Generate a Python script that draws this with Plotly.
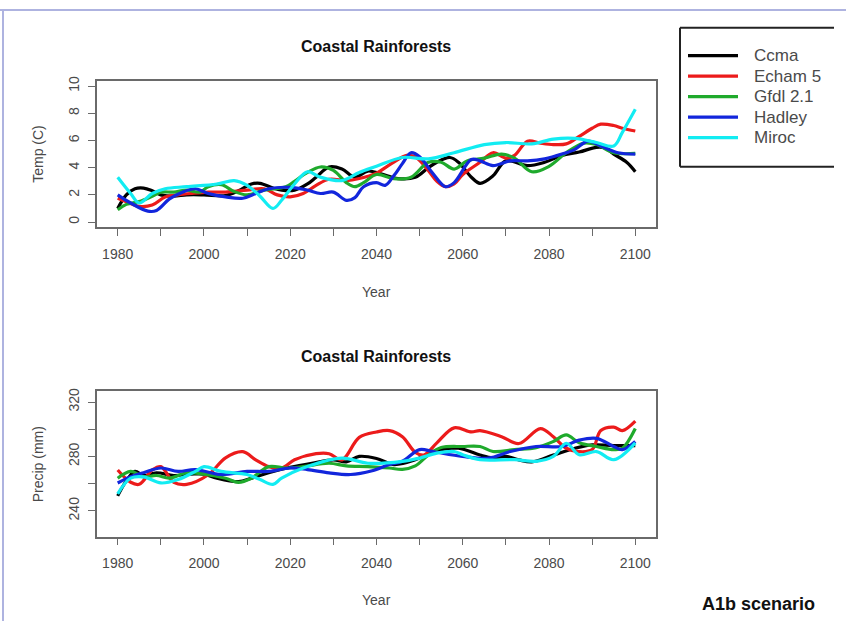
import plotly.graph_objects as go

# ---- Temperature (C), Coastal Rainforests ----
ccma_t_years = [1980, 1982, 1984, 1986, 1988, 1990, 1993, 1996, 2000, 2005, 2008, 2011, 2013, 2016,
                2018, 2021, 2024, 2026, 2029, 2032, 2035, 2038, 2041, 2045, 2049, 2052, 2054, 2057,
                2059, 2062, 2064, 2067, 2070, 2075, 2079, 2083, 2087, 2091, 2093, 2095, 2098, 2100]
ccma_t = [1.0, 2.0, 2.45, 2.5, 2.3, 2.0, 1.9, 2.0, 2.0, 1.95, 2.3, 2.8, 2.85, 2.5,
          2.35, 2.35, 2.8, 3.3, 4.05, 3.9, 3.3, 3.75, 3.55, 3.2, 3.3, 4.0, 4.4, 4.75,
          4.4, 3.3, 2.85, 3.4, 4.5, 4.15, 4.4, 4.9, 5.15, 5.5, 5.45, 5.0, 4.4, 3.7]

echam_t_years = [1980, 1982, 1985, 1988, 1991, 1994, 1997, 2001, 2005, 2010, 2014, 2017, 2020, 2023,
                 2026, 2029, 2033, 2036, 2040, 2043, 2047, 2049, 2052, 2054, 2056, 2058, 2060, 2064,
                 2067, 2070, 2072, 2075, 2078, 2081, 2084, 2087, 2090, 2092, 2095, 2097, 2100]
echam_t = [1.75, 1.5, 1.15, 1.25, 1.85, 2.0, 2.1, 2.2, 2.2, 2.35, 2.45, 2.0, 1.85, 2.1,
           2.7, 3.15, 3.05, 3.2, 3.6, 4.2, 4.9, 4.8, 3.8, 3.0, 2.6, 2.8, 3.5, 4.4,
           5.1, 4.7, 4.9, 5.95, 5.8, 5.7, 5.75, 6.3, 6.9, 7.2, 7.1, 6.9, 6.7]

gfdl_t_years = [1980, 1982, 1985, 1988, 1990, 1993, 1996, 1999, 2001, 2004, 2007, 2010, 2014, 2019,
                2021, 2024, 2027, 2030, 2033, 2035, 2037, 2040, 2044, 2048, 2052, 2055, 2058, 2061,
                2065, 2069, 2072, 2076, 2080, 2084, 2088, 2091, 2095, 2100]
gfdl_t = [0.9, 1.3, 1.5, 1.9, 2.2, 2.2, 2.35, 2.2, 2.6, 2.75, 2.25, 2.0, 2.35, 2.6,
          3.0, 3.65, 4.05, 3.8, 2.9, 2.6, 2.9, 3.5, 3.2, 3.3, 4.4, 4.4, 3.9, 4.5,
          4.7, 5.0, 4.7, 3.7, 4.1, 5.1, 5.8, 5.7, 5.1, 5.05]

hadley_t_years = [1980, 1983, 1987, 1989, 1992, 1995, 1998, 2001, 2005, 2009, 2012, 2015, 2020, 2024,
                  2027, 2030, 2033, 2035, 2037, 2040, 2042, 2044, 2046, 2048, 2050, 2053, 2056, 2058,
                  2062, 2064, 2067, 2071, 2075, 2079, 2083, 2086, 2089, 2092, 2096, 2100]
hadley_t = [2.0, 1.4, 0.8, 0.85, 1.7, 2.2, 2.45, 2.1, 1.85, 1.75, 2.1, 2.45, 2.55, 2.35,
            2.1, 2.2, 1.6, 1.8, 2.6, 2.9, 2.7, 3.4, 4.3, 5.1, 4.8, 3.6, 2.6, 2.9,
            4.6, 4.5, 4.15, 4.5, 4.5, 4.65, 5.0, 5.35, 5.95, 5.6, 5.1, 5.0]

miroc_t_years = [1980, 1983, 1985, 1988, 1991, 1996, 2003, 2007, 2010, 2013, 2016, 2018, 2021, 2024,
                 2027, 2032, 2036, 2040, 2046, 2052, 2058, 2065, 2070, 2076, 2081, 2086, 2091, 2095,
                 2097, 2100]
miroc_t = [3.3, 2.1, 1.4, 2.1, 2.45, 2.6, 2.8, 3.05, 2.7, 1.9, 1.0, 1.6, 2.8, 3.7,
           3.3, 3.05, 3.65, 4.1, 4.75, 4.65, 5.1, 5.7, 5.85, 5.75, 6.1, 6.15, 5.85, 5.6,
           6.6, 8.3]

# ---- Precipitation (mm), Coastal Rainforests ----
ccma_p_years = [1980, 1982, 1984, 1986, 1989, 1993, 1997, 2000, 2003, 2008, 2011, 2015, 2020, 2025,
                2030, 2033, 2036, 2040, 2044, 2049, 2053, 2059, 2064, 2067, 2070, 2073, 2076, 2081,
                2086, 2090, 2095, 2100]
ccma_p = [251, 262, 269, 266, 268, 266, 267, 267, 264, 261.5, 264, 268, 272, 275,
          277.5, 276, 280, 278.5, 274, 277.5, 283.5, 286, 281, 279, 280, 277.5, 276, 281,
          286, 288.5, 288, 288]

echam_p_years = [1980, 1983, 1985, 1988, 1990, 1993, 1996, 2001, 2005, 2009, 2012, 2015, 2018, 2021,
                 2026, 2029, 2032, 2036, 2040, 2043, 2046, 2049, 2051, 2054, 2058, 2062, 2064, 2069,
                 2073, 2078, 2081, 2084, 2087, 2090, 2092, 2095, 2097, 2100]
echam_p = [270, 261, 259.5, 270, 272.5, 261, 259.5, 266.5, 279, 283.5, 277.5, 272.5, 271.5, 277.5,
           282, 282, 277.5, 294, 298, 299, 294.5, 283, 281, 290, 301, 298, 299, 294.5,
           289.5, 300.5, 294.5, 286, 283.5, 285, 299, 301.5, 299, 306]

gfdl_p_years = [1980, 1983, 1986, 1989, 1992, 1996, 2000, 2005, 2008, 2011, 2015, 2019, 2023, 2029,
                2033, 2038, 2043, 2046, 2049, 2052, 2055, 2060, 2064, 2067, 2072, 2077, 2081, 2084,
                2087, 2091, 2095, 2097, 2100]
gfdl_p = [264, 269, 265, 266, 264, 268, 267, 264, 261, 264, 272.5, 271.5, 272.5, 275,
          273, 272.5, 271.5, 270.5, 273, 281, 286.5, 287.3, 287.3, 283.6, 285, 286.5, 291, 295.8,
          290, 287.3, 285, 286, 300.5]

hadley_p_years = [1980, 1983, 1986, 1990, 1994, 1998, 2004, 2010, 2015, 2020, 2024, 2029, 2034, 2039,
                  2043, 2046, 2050, 2053, 2060, 2066, 2071, 2077, 2083, 2087, 2091, 2095, 2097, 2100]
hadley_p = [260.5, 265, 268, 271.5, 269, 270.3, 266.7, 269, 269, 271.5, 270.3, 267.9, 266.7, 269.5,
            274, 276.4, 285, 283.6, 280, 278.8, 283.6, 287.3, 287.3, 292, 293.3, 287.3, 285, 291]

miroc_p_years = [1980, 1983, 1986, 1990, 1994, 1998, 2000, 2004, 2010, 2013, 2016, 2018, 2023, 2032,
                 2038, 2046, 2050, 2054, 2058, 2060, 2064, 2072, 2077, 2081, 2084, 2087, 2091, 2095,
                 2100]
miroc_p = [252.5, 264, 265, 260.5, 263, 269, 272.5, 269, 266.7, 263, 259.5, 264, 271.5, 278.8,
           275, 276.4, 278.8, 282.4, 283.6, 281.2, 277.6, 277.6, 276.4, 280, 289.7, 281.2, 283.6, 277.6,
           290]

# ---- Labels ----
model_names = ["Ccma", "Echam 5", "Gfdl 2.1", "Hadley", "Miroc"]
model_colors = ["#000000", "#ec1b1b", "#1faa2c", "#1226dc", "#12ecf2"]
x_ticks = list(range(1980, 2101, 10))
x_ticklabels = [str(v) if v % 20 == 0 else "" for v in x_ticks]
temp_ticks = [0, 2, 4, 6, 8, 10]
precip_ticks = [240, 260, 280, 300, 320]
precip_ticklabels = ["240", "", "280", "", "320"]

temp_series = [(ccma_t_years, ccma_t), (echam_t_years, echam_t), (gfdl_t_years, gfdl_t),
               (hadley_t_years, hadley_t), (miroc_t_years, miroc_t)]
precip_series = [(ccma_p_years, ccma_p), (echam_p_years, echam_p), (gfdl_p_years, gfdl_p),
                 (hadley_p_years, hadley_p), (miroc_p_years, miroc_p)]

W, H = 846, 621
FONT = "Liberation Sans, Arial, sans-serif"
LINE_W = 3.2


def px(x):
    return x / W


def py(y):
    return 1 - y / H


fig = go.Figure()

for name, color, (yrs, vals) in zip(model_names, model_colors, temp_series):
    fig.add_trace(go.Scatter(x=yrs, y=vals, mode="lines", name=name, legendgroup=name,
                             line=dict(color=color, width=LINE_W, shape="spline", smoothing=1.0),
                             xaxis="x", yaxis="y", showlegend=False))
for name, color, (yrs, vals) in zip(model_names, model_colors, precip_series):
    fig.add_trace(go.Scatter(x=yrs, y=vals, mode="lines", name=name, legendgroup=name,
                             line=dict(color=color, width=LINE_W, shape="spline", smoothing=1.0),
                             xaxis="x2", yaxis="y2", showlegend=False))

axis_common = dict(showgrid=False, zeroline=False, showline=True, mirror=True,
                   linecolor="#6a6a6a", linewidth=1.5, ticks="outside", ticklen=7,
                   tickcolor="#6a6a6a", tickwidth=1.2,
                   tickfont=dict(family=FONT, size=14, color="#4a4a4a"))

x_dom = [px(97), px(656)]
xaxis_cfg = dict(axis_common, range=[1975.2, 2104.8], tickmode="array", tickvals=x_ticks,
                 ticktext=x_ticklabels, domain=x_dom, ticklabelstandoff=6)

fig.update_layout(
    xaxis=dict(xaxis_cfg, anchor="y"),
    yaxis=dict(axis_common, range=[-0.38, 10.35], tickmode="array", tickvals=temp_ticks,
               tickangle=-90, domain=[py(224), py(77)], anchor="x", ticklabelstandoff=4),
    xaxis2=dict(xaxis_cfg, anchor="y2"),
    yaxis2=dict(axis_common, range=[221.0, 328.2], tickmode="array", tickvals=precip_ticks,
                ticktext=precip_ticklabels, tickangle=-90, domain=[py(536), py(389)],
                anchor="x2", ticklabelstandoff=4),
)

text_col = "#4a4a4a"
annotations = [
    dict(text="<b>Coastal Rainforests</b>", x=px(376), y=py(42), font=dict(size=16, color="#111")),
    dict(text="<b>Coastal Rainforests</b>", x=px(376), y=py(354), font=dict(size=16, color="#111")),
    dict(text="Year", x=px(376), y=py(289), font=dict(size=14, color=text_col)),
    dict(text="Year", x=px(376), y=py(600), font=dict(size=14, color=text_col)),
    dict(text="Temp (C)", x=px(38), y=py(150), textangle=-90, font=dict(size=14, color=text_col)),
    dict(text="Precip (mm)", x=px(38), y=py(463), textangle=-90, font=dict(size=14, color=text_col)),
    dict(text="<b>A1b scenario</b>", x=px(758), y=py(604), font=dict(size=18, color="#111")),
]

# legend: one sample line and one label per model
shapes = []
for i, (name, color) in enumerate(zip(model_names, model_colors)):
    yc = 51 + i * 20.7
    shapes.append(dict(type="line", x0=px(688), x1=px(738), y0=py(yc), y1=py(yc),
                       line=dict(color=color, width=LINE_W)))
    annotations.append(dict(text=name, x=px(752), y=py(yc), xanchor="left",
                            font=dict(size=17, color="#4a4a4a")))

for a in annotations:
    a.update(xref="paper", yref="paper", showarrow=False, yanchor="middle")
    a.setdefault("xanchor", "center")
    a["font"]["family"] = FONT
fig.update_layout(annotations=annotations)

# legend frame (open on the right) and the outer page frame
frame = "#aeb3e0"
box = "#222222"
shapes += [
    dict(type="line", x0=px(680), x1=px(834), y0=py(23), y1=py(23), line=dict(color=box, width=2)),
    dict(type="line", x0=px(680), x1=px(834), y0=py(163), y1=py(163), line=dict(color=box, width=2)),
    dict(type="line", x0=px(680), x1=px(680), y0=py(23), y1=py(163), line=dict(color=box, width=2)),
    dict(type="line", x0=0, x1=1, y0=py(5), y1=py(5), line=dict(color=frame, width=2)),
    dict(type="line", x0=px(3), x1=px(3), y0=py(5), y1=0, line=dict(color=frame, width=2)),
]
for s in shapes:
    s.update(xref="paper", yref="paper")
fig.update_layout(shapes=shapes)

fig.update_layout(
    width=W, height=H, autosize=False,
    margin=dict(l=0, r=0, t=0, b=0),
    paper_bgcolor="white", plot_bgcolor="white",
    font=dict(family=FONT),
    showlegend=False,
)

fig.write_html("out.html")
